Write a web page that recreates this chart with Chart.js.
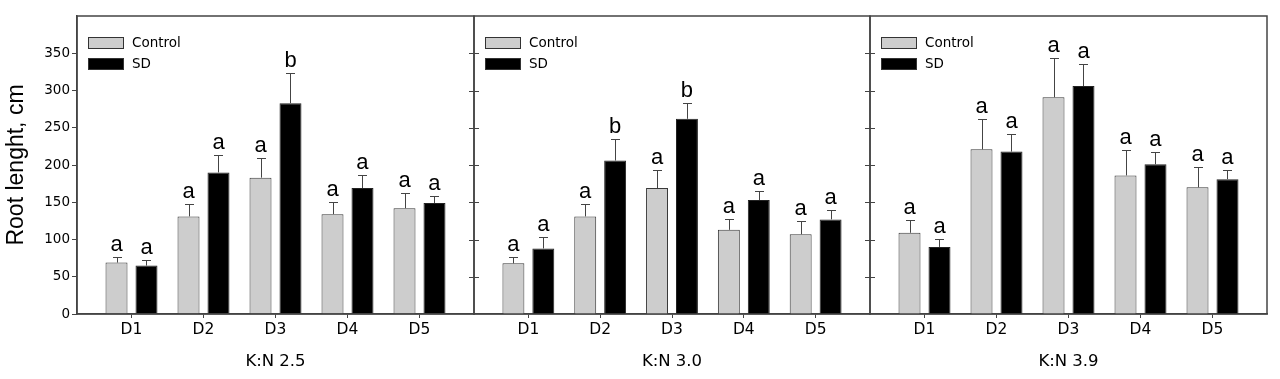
<!DOCTYPE html>
<html>
<head>
<meta charset="utf-8">
<script src="https://cdn.jsdelivr.net/npm/chart.js@4"></script>
<style>
  html, body { margin: 0; padding: 0; background: #fff; }
  #wrap { position: relative; width: 1280px; height: 379px; overflow: hidden; }
  .panel { position: absolute; top: 0; height: 379px; }
</style>
</head>
<body>
<div id="wrap">
  <div class="panel" style="left:0px;width:480px"><canvas id="c1"></canvas></div>
  <div class="panel" style="left:468px;width:408px"><canvas id="c2"></canvas></div>
  <div class="panel" style="left:864px;width:416px"><canvas id="c3"></canvas></div>
</div>
<script>
const categories = ["D1", "D2", "D3", "D4", "D5"];
const yTicks = [0, 50, 100, 150, 200, 250, 300, 350];

// K:N 2.5
const control25 = [69, 131, 183, 134, 142];
const controlErr25 = [8, 17, 27, 17, 21];
const sd25 = [65, 190, 283, 169, 149];
const sdErr25 = [8, 23, 41, 18, 9];
const lettersControl25 = ["a", "a", "a", "a", "a"];
const lettersSD25 = ["a", "a", "b", "a", "a"];

// K:N 3.0
const control30 = [68, 131, 169, 113, 107];
const controlErr30 = [9, 17, 24, 15, 18];
const sd30 = [88, 206, 262, 153, 127];
const sdErr30 = [15, 29, 21, 12, 13];
const lettersControl30 = ["a", "a", "a", "a", "a"];
const lettersSD30 = ["a", "b", "b", "a", "a"];

// K:N 3.9
const control39 = [109, 221, 291, 186, 170];
const controlErr39 = [17, 41, 53, 34, 27];
const sd39 = [90, 218, 306, 201, 181];
const sdErr39 = [11, 24, 30, 16, 12];
const lettersControl39 = ["a", "a", "a", "a", "a"];
const lettersSD39 = ["a", "a", "a", "a", "a"];

const lineColor = "#444";
const textColor = "#000";

// error bars, letters, legend box and inner ticks
const extras = {
  id: "extras",
  afterDatasetsDraw(chart) {
    const ctx = chart.ctx;
    const y = chart.scales.y;
    chart.data.datasets.forEach((ds, di) => {
      const meta = chart.getDatasetMeta(di);
      meta.data.forEach((bar, i) => {
        const top = y.getPixelForValue(ds.data[i].y + ds.err[i]);
        ctx.save();
        ctx.strokeStyle = "#444";
        ctx.lineWidth = 1;
        ctx.beginPath();
        ctx.moveTo(Math.round(bar.x) + 0.5, bar.y);
        ctx.lineTo(Math.round(bar.x) + 0.5, Math.round(top) + 0.5);
        ctx.moveTo(Math.round(bar.x) - 4, Math.round(top) + 0.5);
        ctx.lineTo(Math.round(bar.x) + 5, Math.round(top) + 0.5);
        ctx.stroke();
        ctx.fillStyle = textColor;
        ctx.font = "22px 'Liberation Sans', Arial, sans-serif";
        ctx.textAlign = "center";
        ctx.textBaseline = "alphabetic";
        ctx.fillText(ds.letters[i], bar.x, top - 6);
        ctx.restore();
      });
    });
  },
  afterDraw(chart) {
    const ctx = chart.ctx;
    const a = chart.chartArea;
    const y = chart.scales.y;
    ctx.save();
    ctx.strokeStyle = lineColor;
    ctx.lineWidth = 1.5;
    ctx.strokeRect(a.left, a.top, a.right - a.left, a.bottom - a.top);
    ctx.lineWidth = 1;
    ctx.beginPath();
    const sides = chart.options.plugins.extras.innerTicks;
    yTicks.forEach(v => {
      if (v === 0) return;
      const py = Math.round(y.getPixelForValue(v)) + 0.5;
      if (sides.includes("left")) { ctx.moveTo(a.left, py); ctx.lineTo(a.left + 5, py); }
      if (sides.includes("right")) { ctx.moveTo(a.right, py); ctx.lineTo(a.right - 5, py); }
    });
    ctx.stroke();

    // legend
    chart.data.datasets.forEach((ds, di) => {
      const bx = a.left + 11.5;
      const by = a.top + 21.5 + di * 21;
      ctx.fillStyle = ds.backgroundColor;
      ctx.fillRect(bx, by, 35, 11);
      ctx.strokeStyle = "#333";
      ctx.lineWidth = 1;
      ctx.strokeRect(bx, by, 35, 11);
      ctx.fillStyle = textColor;
      ctx.font = "13.5px 'DejaVu Sans', sans-serif";
      ctx.textAlign = "left";
      ctx.textBaseline = "middle";
      ctx.fillText(ds.label, a.left + 55, by + 6);
    });
    ctx.restore();
  }
};

function makePanel(id, title, ctrl, ctrlErr, sd, sdErr, lc, ls, first, innerTicks, padding) {
  const toPoints = arr => arr.map((v, i) => ({ x: i + 1, y: v }));
  return new Chart(document.getElementById(id), {
    type: "bar",
    data: {
      datasets: [
        {
          label: "Control",
          data: toPoints(ctrl),
          err: ctrlErr,
          letters: lc,
          backgroundColor: "#cdcdcd",
          borderColor: "#3a3a3a",
          borderWidth: 1
        },
        {
          label: "SD",
          data: toPoints(sd),
          err: sdErr,
          letters: ls,
          backgroundColor: "#000",
          borderColor: "#222",
          borderWidth: 1
        }
      ]
    },
    options: {
      responsive: true,
      maintainAspectRatio: false,
      animation: false,
      barPercentage: 0.733,
      categoryPercentage: 0.833,
      layout: { padding: padding },
      scales: {
        x: {
          type: "linear",
          offset: false,
          min: 0.243,
          max: 5.757,
          afterBuildTicks: scale => {
            scale.ticks = categories.map((c, i) => ({ value: i + 1 }));
          },
          afterFit: scale => { scale.height = 65; },
          ticks: {
            callback: (v) => categories[Math.round(v) - 1],
            color: textColor,
            font: { family: "'DejaVu Sans', sans-serif", size: 15.5 },
            padding: 3,
            maxRotation: 0
          },
          grid: { drawOnChartArea: false, offset: false, tickLength: 4, color: lineColor },
          border: { color: lineColor, width: 1.5 },
          title: {
            display: true,
            text: title,
            color: textColor,
            font: { family: "'DejaVu Sans', sans-serif", size: 16.5 },
            padding: { top: 0, bottom: 7 }
          }
        },
        y: {
          display: first,
          min: 0,
          max: 400,
          afterBuildTicks: scale => {
            scale.ticks = yTicks.map(v => ({ value: v }));
          },
          afterFit: scale => { scale.width = first ? 77 : 0; },
          ticks: {
            color: textColor,
            font: { family: "'DejaVu Sans', sans-serif", size: 13.5 },
            padding: 2
          },
          grid: { drawOnChartArea: false, tickLength: 5, color: lineColor },
          border: { color: lineColor, width: 1.5 },
          title: {
            display: true,
            text: "Root lenght, cm",
            color: textColor,
            font: { family: "'Liberation Sans', Arial, sans-serif", size: 23 },
            padding: { top: 3, bottom: 0 }
          }
        }
      },
      plugins: {
        legend: { display: false },
        tooltip: { enabled: false },
        extras: { innerTicks: innerTicks }
      }
    },
    plugins: [extras]
  });
}

makePanel("c1", "K:N 2.5", control25, controlErr25, sd25, sdErr25, lettersControl25, lettersSD25,
  true, ["right"], { top: 16, right: 6, bottom: 0, left: 0 });
makePanel("c2", "K:N 3.0", control30, controlErr30, sd30, sdErr30, lettersControl30, lettersSD30,
  false, ["left", "right"], { top: 16, right: 6, bottom: 0, left: 6 });
makePanel("c3", "K:N 3.9", control39, controlErr39, sd39, sdErr39, lettersControl39, lettersSD39,
  false, ["left"], { top: 16, right: 13, bottom: 0, left: 6 });
</script>
</body>
</html>
